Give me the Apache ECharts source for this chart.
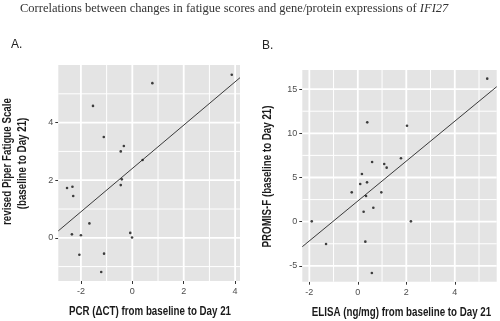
<!DOCTYPE html>
<html>
<head>
<meta charset="utf-8">
<script src="https://cdn.jsdelivr.net/npm/echarts@6/dist/echarts.min.js"></script>
<style>html,body{margin:0;padding:0;background:#fff}#c{width:500px;height:321px}</style>
</head>
<body>
<div id="c"></div>
<script>
// ---- Data ----
const titleText = 'Correlations between changes in fatigue scores and gene/protein expressions of ';
const titleGene = 'IFI27';

// Panel A: PCR (ΔCT) vs revised Piper Fatigue Scale
const pcrX = [3.87, 0.78, -1.53, -1.11, -0.33, -0.45, 0.40, -0.41, -0.45, -2.54, -2.33, -2.30, -1.67, -2.35, -2.00, -0.08, -0.01, -2.06, -1.10, -1.21];
const piperY = [5.66, 5.37, 4.58, 3.50, 3.19, 3.00, 2.70, 2.03, 1.83, 1.73, 1.77, 1.45, 0.50, 0.12, 0.09, 0.17, 0.01, -0.59, -0.55, -1.19];
const fitAX = [-2.88, 4.19];
const fitAY = [0.24, 5.56];
const ticksAX = [-2, 0, 2, 4];
const ticksAY = [0, 2, 4];
const minorAX = [-1, 1, 3];
const minorAY = [-1, 1, 3, 5];

// Panel B: ELISA (ng/mg) vs PROMIS-F
const elisaX = [5.34, 0.39, 2.03, 0.59, 1.09, 1.19, 1.78, 0.17, 0.10, 0.38, -0.25, 0.97, 0.34, 0.24, 0.64, -1.90, 2.19, -1.31, 0.31, 0.58];
const promisY = [16.18, 11.24, 10.86, 6.75, 6.53, 6.11, 7.17, 5.40, 4.26, 4.45, 3.32, 3.32, 2.91, 1.13, 1.58, 0.04, 0.04, -2.52, -2.26, -5.80];
const fitBX = [-2.29, 5.73];
const fitBY = [-2.83, 15.27];
const ticksBX = [-2, 0, 2, 4];
const ticksBY = [-5, 0, 5, 10, 15];
const minorBX = [-1, 1, 3, 5];
const minorBY = [-2.5, 2.5, 7.5, 12.5];

const rangeA = {xmin: -2.88, xmax: 4.19, ymin: -1.5, ymax: 6.0};
const rangeB = {xmin: -2.29, xmax: 5.73, ymin: -6.79, ymax: 17.16};

// ---- Build options ----
const sansFont = "'Liberation Sans', Arial, sans-serif";
const zip = (a, b) => a.map((v, i) => [v, b[i]]);

// emulate a condensed (narrow) face by horizontal scaling
const nameSize = 12.5;
const mc = document.createElement('canvas').getContext('2d');
mc.font = 'bold ' + nameSize + 'px ' + sansFont;
const pcrName = 'PCR (\u0394CT) from baseline to Day 21';
const narrow = 162 / mc.measureText(pcrName).width;

// panel background as a markArea spanning the full axis ranges
function panelSeries(idx, r) {
  return {
    type: 'scatter', xAxisIndex: idx, yAxisIndex: idx, data: [], z: 0, silent: true,
    markArea: {silent: true, itemStyle: {color: '#e4e4e4'},
      data: [[{coord: [r.xmin, r.ymin]}, {coord: [r.xmax, r.ymax]}]]}
  };
}

function gridSeries(idx, r, majX, minX, majY, minY) {
  const out = [];
  const mk = (data, w) => ({
    type: 'line', xAxisIndex: idx, yAxisIndex: idx, data, symbol: 'none', z: 2, silent: true,
    lineStyle: {color: '#ffffff', width: w}
  });
  minX.forEach(v => out.push(mk([[v, r.ymin], [v, r.ymax]], 1)));
  minY.forEach(v => out.push(mk([[r.xmin, v], [r.xmax, v]], 1)));
  majX.forEach(v => out.push(mk([[v, r.ymin], [v, r.ymax]], 1.8)));
  majY.forEach(v => out.push(mk([[r.xmin, v], [r.xmax, v]], 1.8)));
  return out;
}

function xAxis(idx, r, ticks) {
  return {
    type: 'value', gridIndex: idx, min: r.xmin, max: r.xmax,
    axisLine: {show: false, onZero: false}, splitLine: {show: false},
    axisTick: {show: true, customValues: ticks, length: 3, lineStyle: {color: '#333'}},
    axisLabel: {customValues: ticks, color: '#4d4d4d', fontSize: 9, fontFamily: sansFont, margin: 6}
  };
}
function yAxis(idx, r, ticks) {
  return {
    type: 'value', gridIndex: idx, min: r.ymin, max: r.ymax,
    axisLine: {show: false, onZero: false}, splitLine: {show: false},
    axisTick: {show: true, customValues: ticks, length: 3, lineStyle: {color: '#333'}},
    axisLabel: {customValues: ticks, color: '#4d4d4d', fontSize: 9, fontFamily: sansFont, margin: 5}
  };
}

function nameText(text, x, y, rotated) {
  return {
    type: 'text', x, y, rotation: rotated ? Math.PI / 2 : 0, scaleX: narrow, scaleY: 1,
    style: {text, align: 'center', verticalAlign: 'middle', fontFamily: sansFont,
            fontWeight: 'bold', fontSize: nameSize, fill: '#1a1a1a'}
  };
}

const option = {
  animation: false,
  backgroundColor: '#ffffff',
  grid: [
    {left: 58.3, top: 65, width: 181.7, height: 216, show: false},
    {left: 302.3, top: 70, width: 194.4, height: 211.7, show: false}
  ],
  xAxis: [xAxis(0, rangeA, ticksAX), xAxis(1, rangeB, ticksBX)],
  yAxis: [yAxis(0, rangeA, ticksAY), yAxis(1, rangeB, ticksBY)],
  series: [].concat(
    [panelSeries(0, rangeA), panelSeries(1, rangeB)],
    gridSeries(0, rangeA, ticksAX, minorAX, ticksAY, minorAY),
    gridSeries(1, rangeB, ticksBX, minorBX, ticksBY, minorBY),
    [
      {type: 'line', xAxisIndex: 0, yAxisIndex: 0, data: zip(fitAX, fitAY), symbol: 'none', z: 3,
       lineStyle: {color: '#3a3a3a', width: 1}},
      {type: 'line', xAxisIndex: 1, yAxisIndex: 1, data: zip(fitBX, fitBY), symbol: 'none', z: 3,
       lineStyle: {color: '#3a3a3a', width: 1}},
      {type: 'scatter', xAxisIndex: 0, yAxisIndex: 0, data: zip(pcrX, piperY), symbolSize: 2.6, z: 4,
       itemStyle: {color: '#111'}},
      {type: 'scatter', xAxisIndex: 1, yAxisIndex: 1, data: zip(elisaX, promisY), symbolSize: 2.6, z: 4,
       itemStyle: {color: '#111'}}
    ]
  ),
  graphic: [
    {type: 'text', left: 20, top: 2, style: {
      text: '{n|' + titleText + '}{i|' + titleGene + '}',
      rich: {
        n: {fontFamily: "'Liberation Serif', serif", fontSize: 12.5, fill: '#333'},
        i: {fontFamily: "'Liberation Serif', serif", fontSize: 12.5, fontStyle: 'italic', fill: '#333'}
      }
    }},
    {type: 'text', left: 11, top: 39, style: {text: 'A.', fontFamily: sansFont, fontSize: 12, fill: '#222'}},
    {type: 'text', left: 262, top: 40, style: {text: 'B.', fontFamily: sansFont, fontSize: 12, fill: '#222'}},
    nameText('revised Piper Fatigue Scale', 7.3, 161.5, true),
    nameText('(baseline to Day 21)', 22.3, 163.5, true),
    nameText('PROMIS-F (baseline to Day 21)', 268, 176.5, true),
    nameText(pcrName, 150, 311.5, false),
    nameText('ELISA (ng/mg) from baseline to Day 21', 401.5, 312.5, false)
  ]
};

const chart = echarts.init(document.getElementById('c'), null, {renderer: 'canvas'});
chart.setOption(option);
</script>
</body>
</html>
